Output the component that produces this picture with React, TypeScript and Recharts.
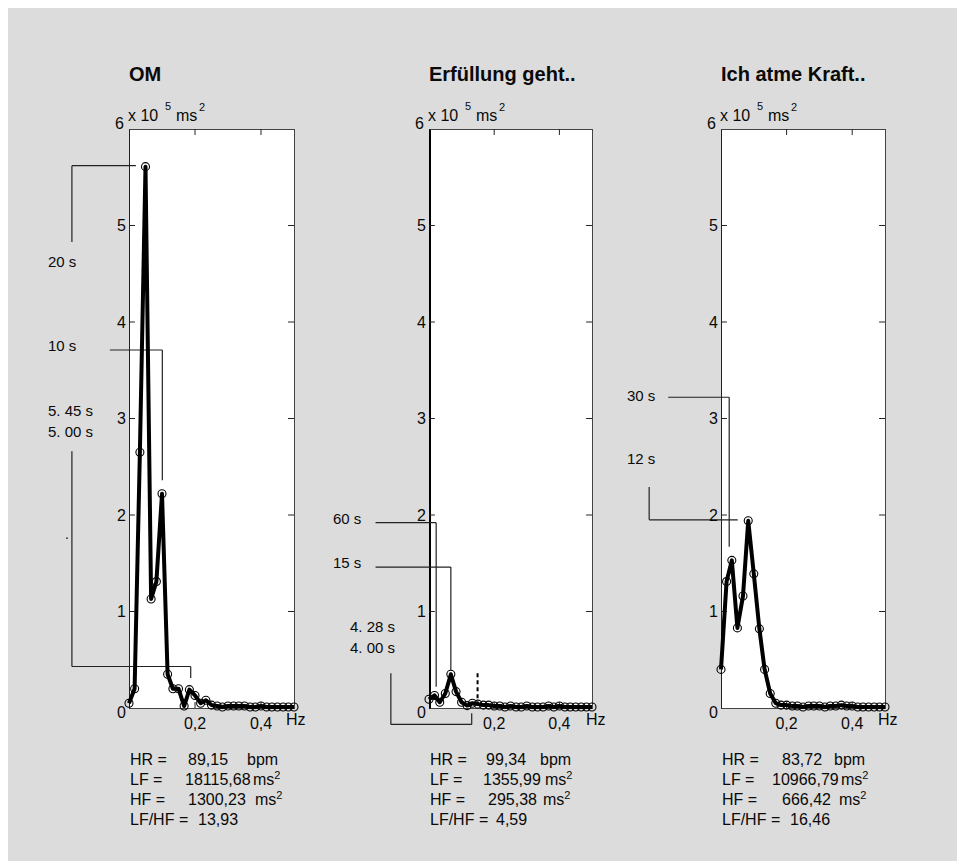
import React from 'react'
import { LineChart, Line, XAxis, YAxis, ReferenceLine } from 'recharts'

// spectral power, x 10^5 ms^2, sampled every ~1/60 Hz
const freqs = [
  0, 0.017, 0.033, 0.05, 0.067, 0.083, 0.1, 0.117, 0.133, 0.15, 0.167, 0.183, 0.2, 0.217, 0.233, 0.25,
  0.267, 0.283, 0.3, 0.317, 0.333, 0.35, 0.367, 0.383, 0.4, 0.417, 0.433, 0.45, 0.467, 0.483, 0.5,
]
const omPower = [
  0.05, 0.2, 2.65, 5.61, 1.13, 1.31, 2.22, 0.35, 0.2, 0.2, 0.02, 0.19, 0.13, 0.05, 0.08, 0.03,
  0.02, 0.01, 0.02, 0.02, 0.02, 0.02, 0.01, 0.01, 0.02, 0.01, 0.01, 0.01, 0.01, 0.01, 0.01,
]
const erfPower = [
  0.09, 0.13, 0.06, 0.15, 0.35, 0.17, 0.06, 0.025, 0.05, 0.04, 0.03, 0.03, 0.02, 0.02, 0.01, 0.02,
  0.01, 0.01, 0.02, 0.01, 0.01, 0.01, 0.02, 0.01, 0.02, 0.01, 0.01, 0.01, 0.01, 0.01, 0.01,
]
const kraftPower = [
  0.4, 1.31, 1.53, 0.83, 1.16, 1.94, 1.39, 0.82, 0.4, 0.15, 0.05, 0.03, 0.03, 0.02, 0.02, 0.01,
  0.02, 0.02, 0.02, 0.01, 0.02, 0.02, 0.03, 0.02, 0.02, 0.01, 0.01, 0.01, 0.01, 0.01, 0.01,
]

const titles = ['OM', 'Erfüllung geht..', 'Ich atme Kraft..']
const yTicks = [0, 1, 2, 3, 4, 5, 6]
const xTicks = [0.2, 0.4]
const hrValues = ['89,15', '99,34', '83,72']
const lfValues = ['18115,68', '1355,99', '10966,79']
const hfValues = ['1300,23', '295,38', '666,42']
const ratioValues = ['13,93', '4,59', '16,46']

// period markers: polylines in (Hz, power) coordinates
const omMarks = [
  [[-0.173, 4.83], [-0.173, 5.62], [0.021, 5.62]],
  [[-0.058, 3.71], [0.101, 3.71], [0.101, 2.36]],
  [[-0.173, 2.66], [-0.173, 0.43], [0.187, 0.43], [0.187, 0.31]],
  [[-0.191, 1.76], [-0.185, 1.76]],
]
const erfMarks = [
  [[-0.164, 1.92], [0.022, 1.92], [0.022, 0.22]],
  [[-0.164, 1.46], [0.067, 1.46], [0.067, 0.39]],
  [[-0.117, 0.36], [-0.117, -0.17], [0.131, -0.17], [0.131, -0.055]],
]
const erfDashed = [[0.149, 0.36], [0.149, 0]]
const kraftMarks = [
  [[-0.161, 3.22], [0.025, 3.22], [0.025, 1.67]],
  [[-0.219, 2.29], [-0.219, 1.95], [0.051, 1.95]],
]

const omNotes = ['20 s', '10 s', '5. 45 s', '5. 00 s']
const erfNotes = ['60 s', '15 s', '4. 28 s', '4. 00 s']
const kraftNotes = ['30 s', '12 s']

const series = [omPower, erfPower, kraftPower]
const marks = [omMarks, erfMarks, kraftMarks]
const notes = [omNotes, erfNotes, kraftNotes]

// layout
const plotLefts = [129, 429, 721]
const plotWidths = [165, 163, 164]
const PLOT_TOP = 129
const PLOT_H = 579
const noteX = [[48, 48, 48, 48], [333, 333, 350, 350], [627, 627]]
const noteY = [[267, 351, 416, 437], [524, 568, 632, 653], [401, 464]]
const valueX = [[59, 56, 59, 69], [57, 54, 59, 67], [61, 51, 61, 69]]
const unitX = [[118, 124, 126], [111, 116, 114], [113, 120, 118]]

const FONT = '"Liberation Sans", Arial, Helvetica, sans-serif'
const INK = '#0a0a0a'

function YTick(props: any) {
  const { x, y, payload } = props
  const v = payload.value
  const dy = v === 6 ? -6 : v === 0 ? 4 : 0
  const dx = v === 6 ? -2 : 0
  return (
    <text x={x + dx} y={y + dy} dy="0.36em" textAnchor="end" fontSize={16} fill={INK} fontFamily={FONT}>
      {v}
    </text>
  )
}

function toSegments(lines: number[][][]) {
  const segs: { x: number; y: number }[][] = []
  lines.forEach((pts) => {
    for (let i = 1; i < pts.length; i++) {
      segs.push([{ x: pts[i - 1][0], y: pts[i - 1][1] }, { x: pts[i][0], y: pts[i][1] }])
    }
  })
  return segs
}

function SpectrumPanel({ p }: { p: number }) {
  const data = freqs.map((f, i) => ({ f, v: series[p][i] }))
  const w = plotWidths[p]
  const tickSegs = [
    ...[1, 2, 3, 4, 5].flatMap((k) => [
      [{ x: 0, y: k }, { x: 0.018, y: k }],
      [{ x: 0.482, y: k }, { x: 0.5, y: k }],
    ]),
    ...xTicks.flatMap((t) => [
      [{ x: t, y: 0 }, { x: t, y: 0.062 }],
      [{ x: t, y: 6 }, { x: t, y: 5.938 }],
    ]),
  ]
  return (
    <>
      <div
        style={{
          position: 'absolute',
          left: plotLefts[p],
          top: PLOT_TOP,
          width: w + 1,
          height: PLOT_H + 1,
          boxSizing: 'border-box',
          background: '#fff',
          border: '1px solid #444',
          borderLeft: p === 1 ? '2px solid #000' : '1px solid #222',
        }}
      />
      <div style={{ position: 'absolute', left: plotLefts[p] - 100, top: 90 }}>
        <LineChart
          width={100 + w + 30}
          height={39 + PLOT_H + 40}
          data={data}
          margin={{ top: 39, right: 30, bottom: 10, left: 60 }}
        >
          <XAxis
            dataKey="f"
            type="number"
            domain={[0, 0.5]}
            ticks={xTicks}
            height={30}
            axisLine={false}
            tickLine={false}
            tickMargin={4}
            tick={{ fill: INK, fontSize: 16, fontFamily: FONT }}
            tickFormatter={(v: number) => String(v).replace('.', ',')}
          />
          <YAxis
            type="number"
            domain={[0, 6]}
            ticks={yTicks}
            width={40}
            axisLine={false}
            tickLine={false}
            tickSize={0}
            tickMargin={3}
            tick={(props: any) => <YTick {...props} />}
          />
          {tickSegs.map((s, i) => (
            <ReferenceLine key={`t${i}`} segment={s} stroke="#222" strokeWidth={1} ifOverflow="visible" />
          ))}
          {toSegments(marks[p]).map((s, i) => (
            <ReferenceLine key={`m${i}`} segment={s} stroke="#222" strokeWidth={1.2} ifOverflow="visible" />
          ))}
          {p === 1 && (
            <ReferenceLine
              segment={[{ x: erfDashed[0][0], y: erfDashed[0][1] }, { x: erfDashed[1][0], y: erfDashed[1][1] }]}
              stroke="#000"
              strokeWidth={2}
              strokeDasharray="4 3"
              ifOverflow="visible"
            />
          )}
          <Line
            type="linear"
            dataKey="v"
            stroke="#000"
            strokeWidth={4}
            strokeLinejoin="round"
            dot={{ r: 4, fill: 'none', stroke: '#000', strokeWidth: 1.1 }}
            activeDot={false}
            isAnimationActive={false}
          />
        </LineChart>
      </div>
    </>
  )
}

function Ms2({ x, y }: { x: number; y: number }) {
  return (
    <text x={x} y={y}>
      ms
      <tspan fontSize={11} dy={-6}>2</tspan>
    </text>
  )
}

function TextLayer() {
  const rows = [765, 785, 805, 825]
  return (
    <svg
      width={957}
      height={861}
      style={{ position: 'absolute', left: 0, top: 0, pointerEvents: 'none' }}
      fontFamily={FONT}
      fill={INK}
      fontSize={16}
    >
      {plotLefts.map((L, p) => (
        <g key={p}>
          <text x={L} y={81} fontSize={20} fontWeight="bold">
            {titles[p]}
          </text>
          <text x={L - 1} y={121}>x 10</text>
          <text x={L + 36} y={110} fontSize={11}>5</text>
          <text x={L + 47} y={121}>ms</text>
          <text x={L + 70} y={111} fontSize={11}>2</text>
          <text x={L + 157} y={725}>Hz</text>
          {notes[p].map((n, i) => (
            <text key={i} x={noteX[p][i]} y={noteY[p][i]} fontSize={15}>
              {n}
            </text>
          ))}
          <text x={L + 1} y={rows[0]}>HR =</text>
          <text x={L + valueX[p][0]} y={rows[0]}>{hrValues[p]}</text>
          <text x={L + unitX[p][0]} y={rows[0]}>bpm</text>
          <text x={L + 1} y={rows[1]}>LF =</text>
          <text x={L + valueX[p][1]} y={rows[1]}>{lfValues[p]}</text>
          <Ms2 x={L + unitX[p][1]} y={rows[1]} />
          <text x={L + 1} y={rows[2]}>HF =</text>
          <text x={L + valueX[p][2]} y={rows[2]}>{hfValues[p]}</text>
          <Ms2 x={L + unitX[p][2]} y={rows[2]} />
          <text x={L + 1} y={rows[3]}>LF/HF =</text>
          <text x={L + valueX[p][3]} y={rows[3]}>{ratioValues[p]}</text>
        </g>
      ))}
    </svg>
  )
}

export default function App() {
  return (
    <div
      style={{
        position: 'absolute',
        left: 0,
        top: 0,
        width: 957,
        height: 861,
        background: '#fff',
        fontFamily: FONT,
        overflow: 'hidden',
      }}
    >
      <div style={{ position: 'absolute', left: 8, top: 8, width: 949, height: 853, background: '#dcdcdc' }} />
      {[0, 1, 2].map((p) => (
        <SpectrumPanel key={p} p={p} />
      ))}
      <TextLayer />
    </div>
  )
}
